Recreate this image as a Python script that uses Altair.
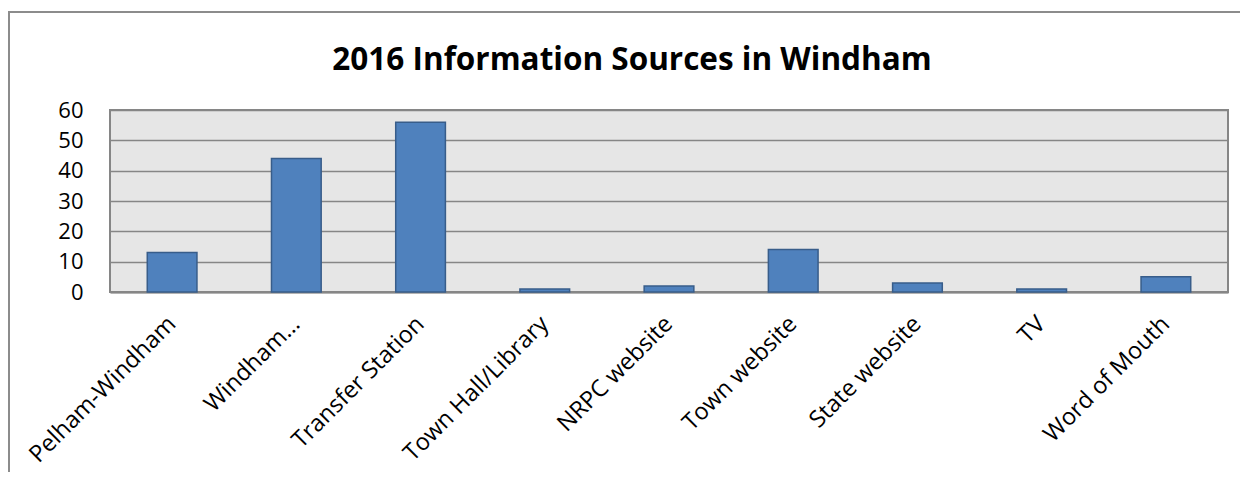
import altair as alt
import pandas as pd

categories = ["Pelham-Windham", "Windham…", "Transfer Station", "Town Hall/Library",
              "NRPC website", "Town website", "State website", "TV", "Word of Mouth"]
values = [13, 44, 56, 1, 2, 14, 3, 1, 5]
y_ticks = [0, 10, 20, 30, 40, 50, 60]
title_text = "2016 Information Sources in Windham"

df = pd.DataFrame({"source": categories, "count": values})

FONT = "Open Sans"

bars = alt.Chart(df).mark_bar(
    color="#4F81BD", stroke="#385D8A", strokeWidth=1.5
).encode(
    x=alt.X("source:N", sort=categories, title=None,
            scale=alt.Scale(paddingInner=0.6, paddingOuter=0.3),
            axis=alt.Axis(labelAngle=-45, labelAlign="right", labelBaseline="middle",
                          labelPadding=28, ticks=False, domain=True, domainColor="#868686",
                          domainWidth=2, labelFont=FONT, labelFontSize=23.5,
                          labelColor="#000000", labelLimit=400)),
    y=alt.Y("count:Q", title=None,
            scale=alt.Scale(domain=[0, 60], nice=False),
            axis=alt.Axis(values=y_ticks, ticks=False, domain=False, grid=True,
                          gridColor="#868686", gridWidth=1.5, labelPadding=27,
                          labelFont=FONT, labelFontSize=22, labelColor="#000000")),
)

frame_df = pd.DataFrame({"k": [0]})
left_line = alt.Chart(frame_df).mark_rule(color="#8C8C8C", strokeWidth=2).encode(
    x=alt.value(-101), y=alt.value(-98), y2=alt.value(400))
top_line = alt.Chart(frame_df).mark_rule(color="#8C8C8C", strokeWidth=2).encode(
    x=alt.value(-102), x2=alt.value(1240), y=alt.value(-98))

title_df = pd.DataFrame({"t": [title_text]})
title_mark = alt.Chart(title_df).mark_text(
    font=FONT, fontSize=31.5, fontWeight="bold", color="#000000",
    align="center", baseline="alphabetic"
).encode(text="t:N", x=alt.value(522), y=alt.value(-40))

chart = alt.layer(bars, left_line, top_line, title_mark).properties(
    width=1118, height=182,
    padding={"left": 102, "top": 102, "right": 12, "bottom": 180},
    autosize=alt.AutoSizeParams(type="none"),
    background="#FFFFFF",
).configure_view(
    fill="#E6E6E6", stroke="#868686", strokeWidth=2
)

chart.save("out.html", embed_options={"renderer": "svg", "actions": False})
